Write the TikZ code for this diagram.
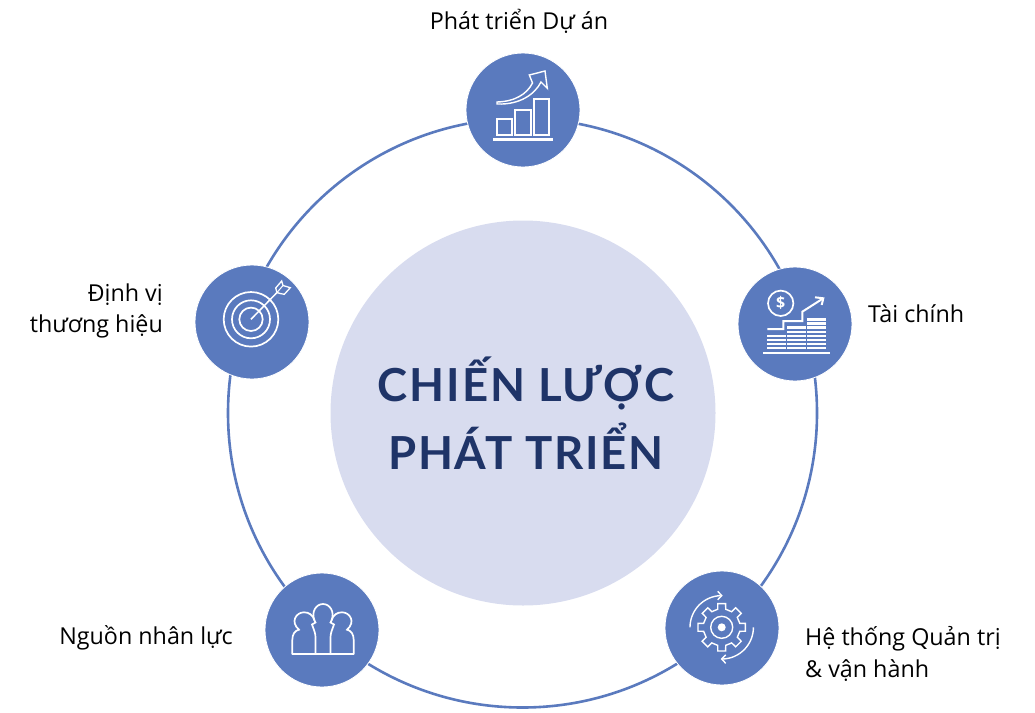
\documentclass[tikz,border=0pt]{standalone}
\usepackage{fontspec}
\setmainfont{Open Sans}
\newfontfamily\titlefont[LetterSpace=4]{Lato}
\definecolor{blueC}{HTML}{5A7ABE}
\definecolor{paleC}{HTML}{D8DCEF}
\definecolor{navyC}{HTML}{1F3468}
\tikzset{
  hub/.style={circle,fill=blueC,draw=white,line width=0.8pt,minimum size=114pt,inner sep=0pt},
  lab/.style={font=\fontsize{23.3}{23.3}\selectfont,text=black,inner sep=0pt,anchor=base west},
  labr/.style={lab,anchor=base east},
  ttl/.style={font=\titlefont\bfseries\fontsize{45.5}{45.5}\selectfont,text=navyC,inner sep=0pt,anchor=base},
  ic/.style={draw=white,line width=1.7pt,line join=miter},
  icf/.style={fill=white,draw=none},
}
\begin{document}
\begin{tikzpicture}[x=1pt,y=-1pt]
\useasboundingbox (0,0) rectangle (1035,712);
\node[circle,draw=blueC,line width=2.6pt,minimum size=589pt,inner sep=0pt] (ring) at (522.5,413) {};
\node[circle,fill=paleC,minimum size=385pt,inner sep=0pt] (core) at (523,413) {};
\node[hub] (h1) at (523,110) {};
\node[hub] (h2) at (795,324) {};
\node[hub] (h3) at (722,628) {};
\node[hub] (h4) at (322,630) {};
\node[hub] (h5) at (252,322) {};
\node[ttl] (t1) at (526,401) {CHIẾN LƯỢC};
\node[ttl] (t2) at (526,469) {PHÁT TRIỂN};
\node[lab,anchor=base] (l1) at (519,29) {Phát triển Dự án};
\node[lab] (l2) at (868,322) {Tài chính};
\node[lab] (l3a) at (805,645) {Hệ thống Quản trị};
\node[lab] (l3b) at (805,677) {\& vận hành};
\node[labr] (l4) at (233,644) {Nguồn nhân lực};
\node[labr] (l5a) at (163,301) {Định vị};
\node[labr] (l5b) at (163,332) {thương hiệu};
% icon 1
\draw[ic] (496.7,118.7) rectangle (511.7,135);
\draw[ic] (515,110) rectangle (530.7,135);
\draw[ic] (534,99) rectangle (549.3,135);
\fill[icf] (492.7,138) rectangle (553.3,141);
\draw[ic,line width=1.4pt] (497,102) .. controls (515,101.5) and (527,94) .. (532.5,83) -- (529.3,75) -- (545,71) -- (547.3,88.3) -- (541,82) .. controls (535,94) and (520,105) .. (497,104) -- cycle;
% icon 2
\draw[ic] (780.7,303.3) circle[radius=12.7pt];
\node[font=\bfseries\fontsize{16}{16}\selectfont,text=white,inner sep=0pt] (dollar) at (780.7,303.3) {\$};
\fill[icf] (762.7,351.7) rectangle (830,354.3);
\foreach \n in {0,...,3}{\fill[icf] (767.3,{346.9-4.1*\n}) rectangle (785.7,{349.3-4.1*\n});}
\foreach \n in {0,...,5}{\fill[icf] (787.3,{346.9-4.1*\n}) rectangle (805.7,{349.3-4.1*\n});}
\foreach \n in {0,...,7}{\fill[icf] (807.3,{346.9-4.1*\n}) rectangle (825.7,{349.3-4.1*\n});}
\draw[ic,line width=2pt] (767.3,329) -- (783.3,329) -- (783.3,321) -- (802.3,321) -- (802.3,311.7) -- (823.3,298.3);
\draw[ic,line width=2pt] (815,297.3) -- (823.3,298.3) -- (821.7,305);
% icon 3
\begin{scope}[shift={(721.7,627.3)}]
\draw[ic,line width=1.4pt] (9.5:24)
 \foreach \a in {0,45,...,315}{ -- (\a-9.5:24) -- (\a+9.5:24) -- (\a+12.5:18.5) -- (\a+32.5:18.5) -- (\a+35.5:24)} -- cycle;
\draw[ic,line width=1.4pt] (0,0) circle[radius=11pt];
\fill[icf] (0,0) circle[radius=4pt];
\draw[ic,line width=1.4pt] plot[domain=180:268,samples=24] (\x:31.7);
\draw[ic,line width=1.4pt] (-4,-36) -- (0,-31.7) -- (-4,-27.5);
\draw[ic,line width=1.4pt] plot[domain=0:88,samples=24] (\x:31.7);
\draw[ic,line width=1.4pt] (4,36) -- (0,31.7) -- (4,27.5);
\end{scope}
% icon 4
\draw[ic] (291.7,654.3) -- (354.3,654.3);
\draw[ic] (292.3,654.3) -- (292.3,640) .. controls (292.3,634) and (295,630.5) .. (299,629.7)
  .. controls (290,622) and (296,612.3) .. (304,612.3) .. controls (309,612.3) and (313,615) .. (314.5,620.5)
  -- (315.5,622.5) -- (312,624.5) -- (314,630) .. controls (315.5,634) and (315.5,636) .. (315.5,640) -- (315.5,654.3);
\draw[ic] (353.7,654.3) -- (353.7,640) .. controls (353.7,634) and (351,630.5) .. (347,629.7)
  .. controls (356,622) and (350,612.3) .. (342,612.3) .. controls (337,612.3) and (333,615) .. (331.5,620.5)
  -- (330.5,622.5) -- (334,624.5) -- (332,630) .. controls (330.5,634) and (330.5,636) .. (330.5,640) -- (330.5,654.3);
\draw[ic] (314.5,620.5) .. controls (311,612) and (316,604) .. (323,604) .. controls (330,604) and (335,612) .. (331.5,620.5);
% icon 5
\draw[ic] (251,319.3) circle[radius=27.3pt];
\draw[ic] (251,319.3) circle[radius=19pt];
\draw[ic] (251,319.3) circle[radius=11.7pt];
\draw[ic,line width=1.5pt] (251,319.3) -- (277,292.5);
\draw[ic,line width=1.3pt] (277,292.5) -- (275.7,288) -- (281.7,281) -- (283,285.5) -- (290.3,287.7) -- (284.3,294.3) -- (280,293.5) -- cycle;
\draw[ic,line width=1pt] (277,292.5) -- (283,285.5);
\end{tikzpicture}
\end{document}
